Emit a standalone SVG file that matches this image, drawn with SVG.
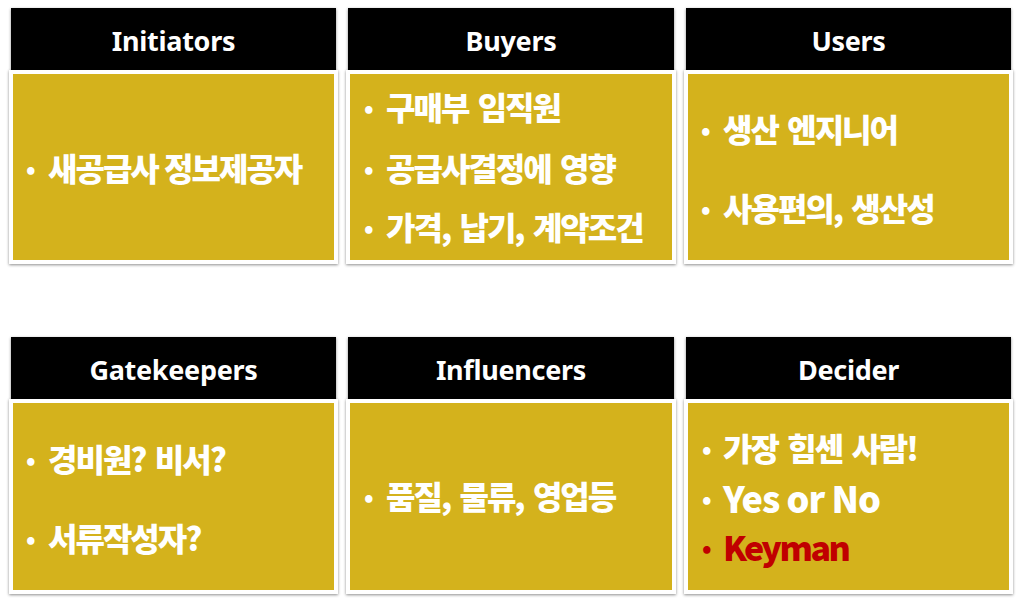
<svg xmlns="http://www.w3.org/2000/svg" width="1023" height="607" viewBox="0 0 1023 607">
<defs>
<filter id="sh" x="-5%" y="-5%" width="110%" height="110%">
<feDropShadow dx="0" dy="1" stdDeviation="1.5" flood-color="#000" flood-opacity="0.45"/>
</filter>
</defs>
<style>
.hd{fill:#000;filter:url(#sh)}
.bd{fill:#D4B21D;stroke:#fff;stroke-width:4;filter:url(#sh)}
.ht{font-family:"Noto Sans","Liberation Sans",sans-serif;font-weight:bold;font-size:27px;fill:#fff;text-anchor:middle;letter-spacing:-0.3px}
.bt{font-family:"Noto Sans CJK KR","Noto Sans",sans-serif;font-weight:900;font-size:32px;fill:#fff;letter-spacing:-2px;word-spacing:4px;dominant-baseline:central}
.lt{font-size:36px;letter-spacing:-1px;word-spacing:0}
.red{fill:#C00000}
.bu{font-size:24px;letter-spacing:0}
</style>
<rect width="1023" height="607" fill="#fff"/>
<g id="initiators">
<rect class="hd" x="11" y="8" width="325" height="63"/>
<rect class="bd" x="11" y="72" width="325" height="190"/>
<text class="ht" x="173.5" y="51">Initiators</text>
<text class="bt" y="167"><tspan class="bu" x="26">•</tspan><tspan x="48" style="word-spacing:1px">새공급사 정보제공자</tspan></text>
</g>
<g id="buyers">
<rect class="hd" x="348" y="8" width="326" height="63"/>
<rect class="bd" x="348" y="72" width="326" height="190"/>
<text class="ht" x="511" y="51">Buyers</text>
<text class="bt" y="106"><tspan class="bu" x="364">•</tspan><tspan x="386">구매부 임직원</tspan></text>
<text class="bt" y="167"><tspan class="bu" x="364">•</tspan><tspan x="386">공급사결정에 영향</tspan></text>
<text class="bt" y="226"><tspan class="bu" x="364">•</tspan><tspan x="386">가격, 납기, 계약조건</tspan></text>
</g>
<g id="users">
<rect class="hd" x="686" y="8" width="325" height="63"/>
<rect class="bd" x="686" y="72" width="325" height="190"/>
<text class="ht" x="848.5" y="51">Users</text>
<text class="bt" y="128"><tspan class="bu" x="701">•</tspan><tspan x="723">생산 엔지니어</tspan></text>
<text class="bt" y="207"><tspan class="bu" x="701">•</tspan><tspan x="723">사용편의, 생산성</tspan></text>
</g>
<g id="gatekeepers">
<rect class="hd" x="11" y="337" width="325" height="63"/>
<rect class="bd" x="11" y="401" width="325" height="191"/>
<text class="ht" x="173.5" y="380">Gatekeepers</text>
<text class="bt" y="458"><tspan class="bu" x="26">•</tspan><tspan x="48">경비원? 비서?</tspan></text>
<text class="bt" y="537"><tspan class="bu" x="26">•</tspan><tspan x="48">서류작성자?</tspan></text>
</g>
<g id="influencers">
<rect class="hd" x="348" y="337" width="326" height="63"/>
<rect class="bd" x="348" y="401" width="326" height="191"/>
<text class="ht" x="511" y="380">Influencers</text>
<text class="bt" y="495"><tspan class="bu" x="364">•</tspan><tspan x="386">품질, 물류, 영업등</tspan></text>
</g>
<g id="decider">
<rect class="hd" x="686" y="337" width="325" height="63"/>
<rect class="bd" x="686" y="401" width="325" height="191"/>
<text class="ht" x="848.5" y="380">Decider</text>
<text class="bt" y="447"><tspan class="bu" x="702">•</tspan><tspan x="723">가장 힘센 사람!</tspan></text>
<text class="bt" y="497"><tspan class="bu" x="702">•</tspan><tspan class="lt" x="723">Yes or No</tspan></text>
<text class="bt red" y="546"><tspan class="bu" x="702">•</tspan><tspan class="lt" x="723" style="font-size:34px;letter-spacing:-2.5px">Keyman</tspan></text>
</g>
<g id="connectors"></g>
</svg>
